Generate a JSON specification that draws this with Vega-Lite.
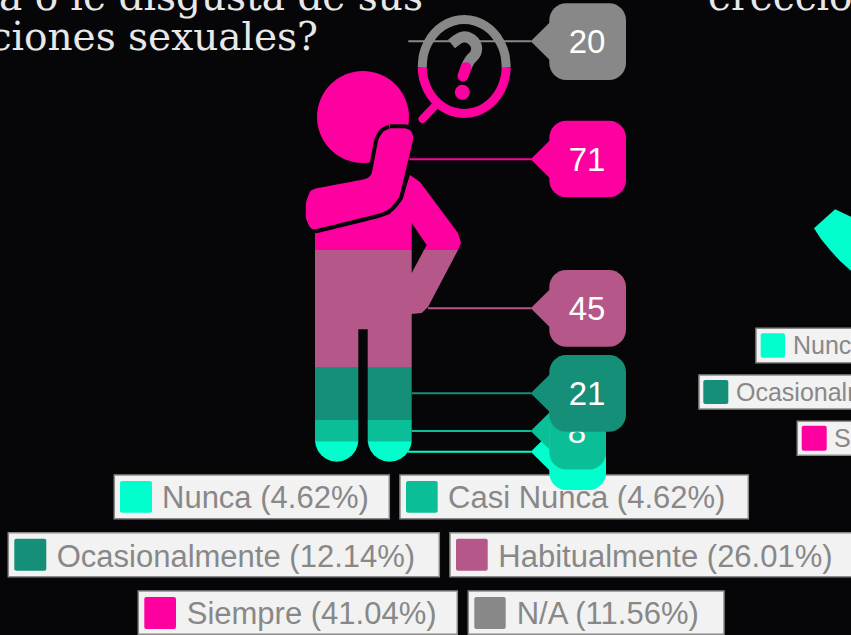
{
"$schema":"https://vega.github.io/schema/vega-lite/v6.json",
"width":851,"height":635,"padding":0,"autosize":{"type":"none"},
"background":"#060609",
"config":{"view":{"stroke":null}},
"datasets":{
"polys":[
{"part":"pink","cat":"Siempre","seq":1,"x":315,"y":250},{"part":"pink","cat":"Siempre","seq":2,"x":315,"y":233},{"part":"pink","cat":"Siempre","seq":3,"x":390,"y":214},{"part":"pink","cat":"Siempre","seq":4,"x":405,"y":190},{"part":"pink","cat":"Siempre","seq":5,"x":410,"y":175},{"part":"pink","cat":"Siempre","seq":6,"x":420,"y":182},{"part":"pink","cat":"Siempre","seq":7,"x":458,"y":233},{"part":"pink","cat":"Siempre","seq":8,"x":461,"y":243},{"part":"pink","cat":"Siempre","seq":9,"x":458,"y":250},{"part":"pink","cat":"Siempre","seq":10,"x":424,"y":250},{"part":"pink","cat":"Siempre","seq":11,"x":426.7,"y":245},{"part":"pink","cat":"Siempre","seq":12,"x":411.7,"y":223},{"part":"pink","cat":"Siempre","seq":13,"x":411.7,"y":250},
{"part":"mauve","cat":"Habitualmente","seq":1,"x":315,"y":250},{"part":"mauve","cat":"Habitualmente","seq":2,"x":411.7,"y":250},{"part":"mauve","cat":"Habitualmente","seq":3,"x":411.7,"y":273},{"part":"mauve","cat":"Habitualmente","seq":4,"x":424,"y":250},{"part":"mauve","cat":"Habitualmente","seq":5,"x":458,"y":250},{"part":"mauve","cat":"Habitualmente","seq":6,"x":428,"y":307},{"part":"mauve","cat":"Habitualmente","seq":7,"x":421.7,"y":313},{"part":"mauve","cat":"Habitualmente","seq":8,"x":411.7,"y":314},{"part":"mauve","cat":"Habitualmente","seq":9,"x":411.7,"y":367},{"part":"mauve","cat":"Habitualmente","seq":10,"x":367.7,"y":367},{"part":"mauve","cat":"Habitualmente","seq":11,"x":367.7,"y":329.3},{"part":"mauve","cat":"Habitualmente","seq":12,"x":358.3,"y":329.3},{"part":"mauve","cat":"Habitualmente","seq":13,"x":358.3,"y":367},{"part":"mauve","cat":"Habitualmente","seq":14,"x":315,"y":367},
{"part":"footL","cat":"Nunca","seq":1,"x":315,"y":441},{"part":"footL","cat":"Nunca","seq":2,"x":315.8,"y":445.6},{"part":"footL","cat":"Nunca","seq":3,"x":317.9,"y":450.8},{"part":"footL","cat":"Nunca","seq":4,"x":321.4,"y":455.3},{"part":"footL","cat":"Nunca","seq":5,"x":325.9,"y":458.8},{"part":"footL","cat":"Nunca","seq":6,"x":331.1,"y":460.9},{"part":"footL","cat":"Nunca","seq":7,"x":336.7,"y":461.7},{"part":"footL","cat":"Nunca","seq":8,"x":342.3,"y":460.9},{"part":"footL","cat":"Nunca","seq":9,"x":347.5,"y":458.8},{"part":"footL","cat":"Nunca","seq":10,"x":352,"y":455.3},{"part":"footL","cat":"Nunca","seq":11,"x":355.5,"y":450.8},{"part":"footL","cat":"Nunca","seq":12,"x":357.6,"y":445.6},{"part":"footL","cat":"Nunca","seq":13,"x":358.3,"y":441},
{"part":"footR","cat":"Nunca","seq":1,"x":367.7,"y":441},{"part":"footR","cat":"Nunca","seq":2,"x":368.5,"y":445.6},{"part":"footR","cat":"Nunca","seq":3,"x":370.6,"y":450.8},{"part":"footR","cat":"Nunca","seq":4,"x":374.1,"y":455.3},{"part":"footR","cat":"Nunca","seq":5,"x":378.7,"y":458.8},{"part":"footR","cat":"Nunca","seq":6,"x":384,"y":460.9},{"part":"footR","cat":"Nunca","seq":7,"x":389.7,"y":461.7},{"part":"footR","cat":"Nunca","seq":8,"x":395.4,"y":460.9},{"part":"footR","cat":"Nunca","seq":9,"x":400.7,"y":458.8},{"part":"footR","cat":"Nunca","seq":10,"x":405.3,"y":455.3},{"part":"footR","cat":"Nunca","seq":11,"x":408.8,"y":450.8},{"part":"footR","cat":"Nunca","seq":12,"x":410.9,"y":445.6},{"part":"footR","cat":"Nunca","seq":13,"x":411.7,"y":441},
{"part":"otherchart","cat":"Nunca","seq":1,"x":814,"y":228.3},{"part":"otherchart","cat":"Nunca","seq":2,"x":835.1,"y":209.3},{"part":"otherchart","cat":"Nunca","seq":3,"x":851,"y":216.7},{"part":"otherchart","cat":"Nunca","seq":4,"x":851,"y":270.7},{"part":"otherchart","cat":"Nunca","seq":5,"x":840,"y":261},{"part":"otherchart","cat":"Nunca","seq":6,"x":830,"y":250},{"part":"otherchart","cat":"Nunca","seq":7,"x":821,"y":239}
],
"arrows":[
{"part":"a-mint","cat":"Nunca","seq":1,"x":530.7,"y":451.7},{"part":"a-mint","cat":"Nunca","seq":2,"x":551,"y":431.7},{"part":"a-mint","cat":"Nunca","seq":3,"x":551,"y":471.7},
{"part":"a-teal","cat":"Casi Nunca","seq":1,"x":530.7,"y":431},{"part":"a-teal","cat":"Casi Nunca","seq":2,"x":551,"y":411},{"part":"a-teal","cat":"Casi Nunca","seq":3,"x":551,"y":451},
{"part":"a-dark","cat":"Ocasionalmente","seq":1,"x":530.7,"y":393.3},{"part":"a-dark","cat":"Ocasionalmente","seq":2,"x":551,"y":373.3},{"part":"a-dark","cat":"Ocasionalmente","seq":3,"x":551,"y":413.3},
{"part":"a-mauve","cat":"Habitualmente","seq":1,"x":530.7,"y":308.3},{"part":"a-mauve","cat":"Habitualmente","seq":2,"x":551,"y":288.3},{"part":"a-mauve","cat":"Habitualmente","seq":3,"x":551,"y":328.3},
{"part":"a-pink","cat":"Siempre","seq":1,"x":530.7,"y":159.3},{"part":"a-pink","cat":"Siempre","seq":2,"x":551,"y":139.3},{"part":"a-pink","cat":"Siempre","seq":3,"x":551,"y":179.3},
{"part":"a-grey","cat":"N/A","seq":1,"x":530.7,"y":41.3},{"part":"a-grey","cat":"N/A","seq":2,"x":551,"y":21.3},{"part":"a-grey","cat":"N/A","seq":3,"x":551,"y":61.3}
],
"arm":[
{"seq":1,"x":390,"y":128.3,"cat":"Siempre"},{"seq":2,"x":405,"y":128.3,"cat":"Siempre"},{"seq":3,"x":411,"y":131,"cat":"Siempre"},{"seq":4,"x":413.3,"y":138.3,"cat":"Siempre"},{"seq":5,"x":406.7,"y":166.7,"cat":"Siempre"},{"seq":6,"x":399.3,"y":196.7,"cat":"Siempre"},{"seq":7,"x":390,"y":208.3,"cat":"Siempre"},{"seq":8,"x":380,"y":213.3,"cat":"Siempre"},{"seq":9,"x":316.7,"y":229,"cat":"Siempre"},{"seq":10,"x":310,"y":227.3,"cat":"Siempre"},{"seq":11,"x":306,"y":218.3,"cat":"Siempre"},{"seq":12,"x":306,"y":203,"cat":"Siempre"},{"seq":13,"x":310,"y":191.7,"cat":"Siempre"},{"seq":14,"x":316.7,"y":188.3,"cat":"Siempre"},{"seq":15,"x":365,"y":179,"cat":"Siempre"},{"seq":16,"x":371.7,"y":173.3,"cat":"Siempre"},{"seq":17,"x":378.3,"y":140,"cat":"Siempre"},{"seq":18,"x":383.3,"y":131.7,"cat":"Siempre"},{"seq":19,"x":390,"y":128.3,"cat":"Siempre"}
],
"legs":[
{"cat":"Ocasionalmente","x":315,"x2":358.3,"y":367,"y2":420.5},{"cat":"Ocasionalmente","x":367.7,"x2":411.7,"y":367,"y2":420.5},
{"cat":"Casi Nunca","x":315,"x2":358.3,"y":420,"y2":441.5},{"cat":"Casi Nunca","x":367.7,"x2":411.7,"y":420,"y2":441.5}
],
"head":[{"cat":"Siempre","x":363,"y":117},{"cat":"Siempre","x":462.3,"y":92.3}],
"ring":[
{"part":"ringtop","cat":"N/A","seq":1,"x":422.2,"y":67.7},{"part":"ringtop","cat":"N/A","seq":2,"x":423.6,"y":54.3},{"part":"ringtop","cat":"N/A","seq":3,"x":427.8,"y":43},{"part":"ringtop","cat":"N/A","seq":4,"x":434.5,"y":33.3},{"part":"ringtop","cat":"N/A","seq":5,"x":443.2,"y":25.8},{"part":"ringtop","cat":"N/A","seq":6,"x":453.3,"y":21.1},{"part":"ringtop","cat":"N/A","seq":7,"x":464.2,"y":19.5},{"part":"ringtop","cat":"N/A","seq":8,"x":475.1,"y":21.1},{"part":"ringtop","cat":"N/A","seq":9,"x":485.2,"y":25.8},{"part":"ringtop","cat":"N/A","seq":10,"x":493.9,"y":33.3},{"part":"ringtop","cat":"N/A","seq":11,"x":500.6,"y":43},{"part":"ringtop","cat":"N/A","seq":12,"x":504.8,"y":54.3},{"part":"ringtop","cat":"N/A","seq":13,"x":506.2,"y":67.7},
{"part":"ringbot","cat":"Siempre","seq":1,"x":422.2,"y":67.7},{"part":"ringbot","cat":"Siempre","seq":2,"x":423.6,"y":78.7},{"part":"ringbot","cat":"Siempre","seq":3,"x":427.8,"y":90},{"part":"ringbot","cat":"Siempre","seq":4,"x":434.5,"y":99.7},{"part":"ringbot","cat":"Siempre","seq":5,"x":443.2,"y":107.2},{"part":"ringbot","cat":"Siempre","seq":6,"x":453.3,"y":111.9},{"part":"ringbot","cat":"Siempre","seq":7,"x":464.2,"y":113.5},{"part":"ringbot","cat":"Siempre","seq":8,"x":475.1,"y":111.9},{"part":"ringbot","cat":"Siempre","seq":9,"x":485.2,"y":107.2},{"part":"ringbot","cat":"Siempre","seq":10,"x":493.9,"y":99.7},{"part":"ringbot","cat":"Siempre","seq":11,"x":500.6,"y":90},{"part":"ringbot","cat":"Siempre","seq":12,"x":504.8,"y":78.7},{"part":"ringbot","cat":"Siempre","seq":13,"x":506.2,"y":67.7}
],
"hook":[
{"part":"hook","cat":"N/A","seq":1,"x":451.5,"y":44},{"part":"hook","cat":"N/A","seq":2,"x":461.7,"y":37.3},{"part":"hook","cat":"N/A","seq":3,"x":470,"y":38.3},{"part":"hook","cat":"N/A","seq":4,"x":476,"y":45},{"part":"hook","cat":"N/A","seq":5,"x":475.7,"y":53.3},{"part":"hook","cat":"N/A","seq":6,"x":470,"y":60},{"part":"hook","cat":"N/A","seq":7,"x":466,"y":67.7}
],
"hookend":[
{"part":"hookend","cat":"Siempre","seq":1,"x":466,"y":67.7},{"part":"hookend","cat":"Siempre","seq":2,"x":463,"y":76}
],
"handle":[
{"part":"handle","cat":"Siempre","seq":1,"x":434,"y":107},{"part":"handle","cat":"Siempre","seq":2,"x":422.5,"y":119}
],
"callouts":[
{"cat":"Nunca","tier":1,"n":8,"x":549.3,"x2":606,"y":413,"y2":490,"tx":577,"ty":463.4},
{"cat":"Casi Nunca","tier":2,"n":8,"x":549.3,"x2":606,"y":392.5,"y2":469.5,"tx":577,"ty":442.7},
{"cat":"N/A","tier":3,"n":20,"x":549.3,"x2":626,"y":3.3,"y2":80,"tx":587,"ty":52.8},
{"cat":"Siempre","tier":3,"n":71,"x":549.3,"x2":626,"y":120.7,"y2":197.3,"tx":587,"ty":171},
{"cat":"Habitualmente","tier":3,"n":45,"x":549.3,"x2":626,"y":270,"y2":346.7,"tx":587,"ty":320},
{"cat":"Ocasionalmente","tier":3,"n":21,"x":549.3,"x2":626,"y":355,"y2":431.7,"tx":587,"ty":405}
],
"leaders":[
{"cat":"N/A","x":408.3,"x2":531,"y":41.3},{"cat":"Siempre","x":409.3,"x2":531,"y":159.3},{"cat":"Habitualmente","x":428,"x2":531,"y":308.3},{"cat":"Ocasionalmente","x":411.7,"x2":531,"y":393.3},{"cat":"Casi Nunca","x":411.7,"x2":531,"y":431},{"cat":"Nunca","x":408,"x2":531,"y":451.7}
],
"legend":[
{"cat":"Nunca","label":"Nunca (4.62%)","x":114.3,"x2":389.3,"y":475,"y2":518.7,"sx":120,"sx2":152,"sy":481,"sy2":512.7,"tx":162,"ty":508.3,"fs":31},
{"cat":"Casi Nunca","label":"Casi Nunca (4.62%)","x":400,"x2":748.3,"y":475,"y2":518.7,"sx":406,"sx2":437.7,"sy":481,"sy2":512.7,"tx":448,"ty":508.3,"fs":31},
{"cat":"Ocasionalmente","label":"Ocasionalmente (12.14%)","x":8.3,"x2":439.3,"y":532.7,"y2":576.7,"sx":14.3,"sx2":46.3,"sy":538.7,"sy2":570.7,"tx":56.7,"ty":566.7,"fs":31},
{"cat":"Habitualmente","label":"Habitualmente (26.01%)","x":450,"x2":860,"y":532.7,"y2":576.7,"sx":456,"sx2":487.7,"sy":538.7,"sy2":570.7,"tx":498.3,"ty":566.7,"fs":31},
{"cat":"Siempre","label":"Siempre (41.04%)","x":138.3,"x2":457.3,"y":591,"y2":634.3,"sx":144.3,"sx2":176,"sy":597,"sy2":629,"tx":186.7,"ty":624,"fs":31},
{"cat":"N/A","label":"N/A (11.56%)","x":468.3,"x2":724,"y":591,"y2":634.3,"sx":474.3,"sx2":505.7,"sy":597,"sy2":629,"tx":516.7,"ty":624,"fs":31},
{"cat":"Nunca","label":"Nunca","x":756,"x2":860,"y":328.3,"y2":362.7,"sx":760.7,"sx2":785,"sy":333.3,"sy2":357.7,"tx":793,"ty":353.5,"fs":25},
{"cat":"Ocasionalmente","label":"Ocasionalmente","x":699,"x2":860,"y":375,"y2":409,"sx":703.3,"sx2":728.3,"sy":380,"sy2":404,"tx":736,"ty":400.5,"fs":25},
{"cat":"Siempre","label":"Siempre","x":797.3,"x2":860,"y":421.3,"y2":455.3,"sx":801.7,"sx2":826.7,"sy":425.7,"sy2":450.7,"tx":834,"ty":447,"fs":25}
],
"titles":[
{"label":"a o le disgusta de sus","x":423,"y":9.5,"side":"r"},
{"label":"ciones sexuales?","x":318,"y":50,"side":"r"},
{"label":"erección","x":708,"y":9.5,"side":"l"}
]
},
"encoding":{
"x":{"field":"x","type":"quantitative","axis":null,"scale":{"domain":[0,851],"range":[0,851],"nice":false,"zero":false}},
"y":{"field":"y","type":"quantitative","axis":null,"scale":{"domain":[0,635],"range":[0,635],"nice":false,"zero":false}},
"color":{"field":"cat","type":"nominal","legend":null,"scale":{"domain":["Nunca","Casi Nunca","Ocasionalmente","Habitualmente","Siempre","N/A"],"range":["#00ffcc","#0abf97","#158f77","#b55788","#ff00a0","#888888"]}}
},
"layer":[
{"data":{"name":"titles"},"transform":[{"filter":"datum.side=='r'"}],"mark":{"type":"text","align":"right","baseline":"alphabetic","font":"DejaVu Serif","fontSize":39},"encoding":{"text":{"field":"label"},"color":{"value":"#e8e8e8"}}},
{"data":{"name":"titles"},"transform":[{"filter":"datum.side=='l'"}],"mark":{"type":"text","align":"left","baseline":"alphabetic","font":"DejaVu Serif","fontSize":39},"encoding":{"text":{"field":"label"},"color":{"value":"#e8e8e8"}}},
{"data":{"name":"head"},"mark":{"type":"point","filled":true,"shape":"circle","opacity":1},"transform":[{"filter":"datum.x<400"}],"encoding":{"size":{"value":8464}}},
{"data":{"name":"polys"},"mark":{"type":"line","filled":true,"strokeWidth":0},"encoding":{"order":{"field":"seq","type":"quantitative"},"detail":{"field":"part"}}},
{"data":{"name":"arm"},"mark":{"type":"line","strokeWidth":8,"strokeJoin":"round","interpolate":"cardinal","tension":0.6},"encoding":{"order":{"field":"seq","type":"quantitative"},"color":{"value":"#060609"}}},
{"data":{"name":"arm"},"mark":{"type":"line","filled":true,"strokeWidth":0,"interpolate":"cardinal","tension":0.6},"encoding":{"order":{"field":"seq","type":"quantitative"}}},
{"data":{"name":"legs"},"mark":{"type":"rect"},"encoding":{"x2":{"field":"x2"},"y2":{"field":"y2"}}},
{"data":{"name":"ring"},"mark":{"type":"line","strokeWidth":9,"interpolate":"cardinal","strokeCap":"butt"},"encoding":{"order":{"field":"seq","type":"quantitative"},"detail":{"field":"part"}}},
{"data":{"name":"hook"},"mark":{"type":"line","strokeWidth":11,"interpolate":"cardinal","strokeCap":"butt"},"encoding":{"order":{"field":"seq","type":"quantitative"}}},
{"data":{"name":"hookend"},"mark":{"type":"line","strokeWidth":11,"strokeCap":"round"},"encoding":{"order":{"field":"seq","type":"quantitative"}}},
{"data":{"name":"handle"},"mark":{"type":"line","strokeWidth":8,"strokeCap":"round"},"encoding":{"order":{"field":"seq","type":"quantitative"}}},
{"data":{"name":"head"},"transform":[{"filter":"datum.x>400"}],"mark":{"type":"point","filled":true,"shape":"circle","opacity":1},"encoding":{"size":{"value":225}}},
{"data":{"name":"legend"},"mark":{"type":"rect","stroke":"#8a8a8a","strokeWidth":1.5},"encoding":{"x2":{"field":"x2"},"y2":{"field":"y2"},"color":{"value":"#f2f2f2"}}},
{"data":{"name":"legend"},"mark":{"type":"rect","cornerRadius":2},"encoding":{"x":{"field":"sx","type":"quantitative"},"x2":{"field":"sx2"},"y":{"field":"sy","type":"quantitative"},"y2":{"field":"sy2"}}},
{"data":{"name":"legend"},"mark":{"type":"text","align":"left","baseline":"alphabetic","font":"Liberation Sans"},"encoding":{"x":{"field":"tx","type":"quantitative"},"y":{"field":"ty","type":"quantitative"},"text":{"field":"label"},"size":{"field":"fs","type":"quantitative","scale":null},"color":{"value":"#888888"}}},
{"data":{"name":"leaders"},"mark":{"type":"rule","strokeWidth":2},"encoding":{"x2":{"field":"x2"}}},
{"data":{"name":"arrows"},"mark":{"type":"line","filled":true,"strokeWidth":0},"encoding":{"order":{"field":"seq","type":"quantitative"},"detail":{"field":"part"}}},
{"data":{"name":"callouts"},"transform":[{"filter":"datum.tier==1"}],"mark":{"type":"rect","cornerRadius":17},"encoding":{"x2":{"field":"x2"},"y2":{"field":"y2"}}},
{"data":{"name":"callouts"},"transform":[{"filter":"datum.tier==1"}],"mark":{"type":"text","align":"center","baseline":"alphabetic","font":"Liberation Sans","fontSize":33},"encoding":{"x":{"field":"tx","type":"quantitative"},"y":{"field":"ty","type":"quantitative"},"text":{"field":"n"},"color":{"value":"#ffffff"}}},
{"data":{"name":"callouts"},"transform":[{"filter":"datum.tier==2"}],"mark":{"type":"rect","cornerRadius":17},"encoding":{"x2":{"field":"x2"},"y2":{"field":"y2"}}},
{"data":{"name":"callouts"},"transform":[{"filter":"datum.tier==2"}],"mark":{"type":"text","align":"center","baseline":"alphabetic","font":"Liberation Sans","fontSize":33},"encoding":{"x":{"field":"tx","type":"quantitative"},"y":{"field":"ty","type":"quantitative"},"text":{"field":"n"},"color":{"value":"#ffffff"}}},
{"data":{"name":"callouts"},"transform":[{"filter":"datum.tier==3"}],"mark":{"type":"rect","cornerRadius":17},"encoding":{"x2":{"field":"x2"},"y2":{"field":"y2"}}},
{"data":{"name":"callouts"},"transform":[{"filter":"datum.tier==3"}],"mark":{"type":"text","align":"center","baseline":"alphabetic","font":"Liberation Sans","fontSize":33},"encoding":{"x":{"field":"tx","type":"quantitative"},"y":{"field":"ty","type":"quantitative"},"text":{"field":"n"},"color":{"value":"#ffffff"}}}
]
}
